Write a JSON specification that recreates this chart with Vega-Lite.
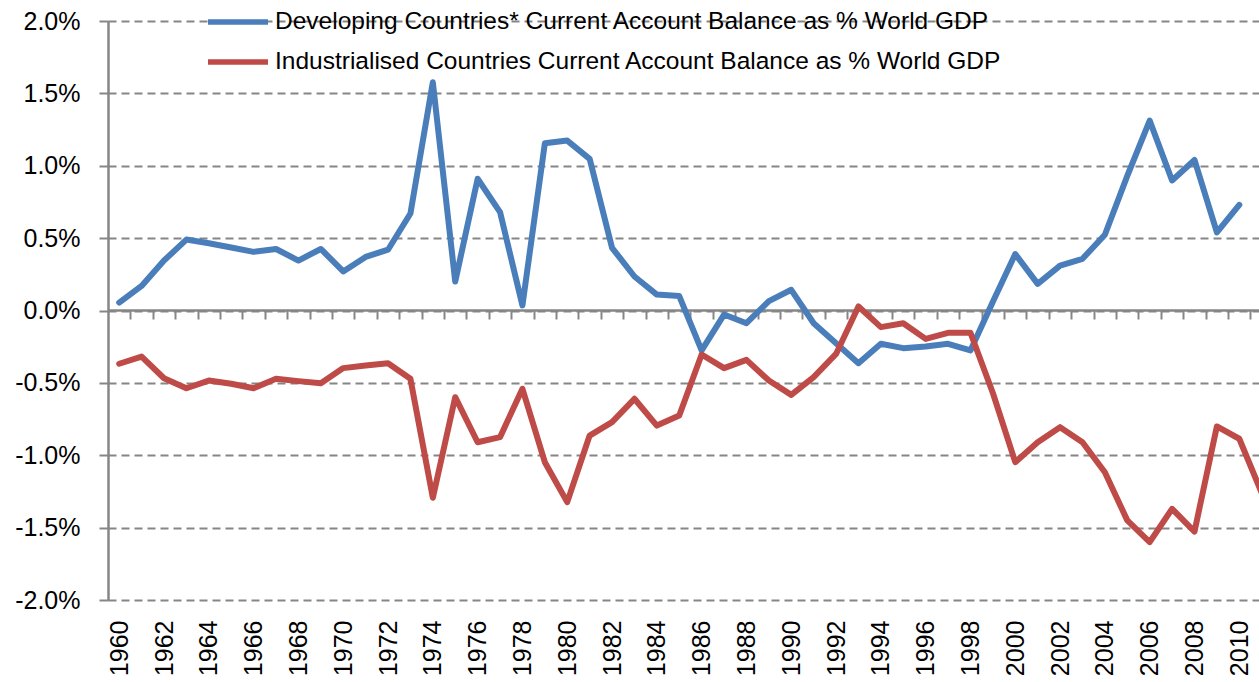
{
  "$schema": "https://vega.github.io/schema/vega-lite/v6.json",
  "width": 1151,
  "height": 579,
  "autosize": {"type": "none"},
  "padding": {"left": 108, "top": 21, "right": 0, "bottom": 82},
  "background": "white",
  "config": {
    "view": {"stroke": null},
    "font": "Liberation Sans"
  },
  "data": {
    "values": [
      {"year": 1960, "series": "Developing Countries* Current Account Balance as % World GDP", "value": 0.055},
      {"year": 1961, "series": "Developing Countries* Current Account Balance as % World GDP", "value": 0.17},
      {"year": 1962, "series": "Developing Countries* Current Account Balance as % World GDP", "value": 0.345},
      {"year": 1963, "series": "Developing Countries* Current Account Balance as % World GDP", "value": 0.49},
      {"year": 1964, "series": "Developing Countries* Current Account Balance as % World GDP", "value": 0.465},
      {"year": 1965, "series": "Developing Countries* Current Account Balance as % World GDP", "value": 0.435},
      {"year": 1966, "series": "Developing Countries* Current Account Balance as % World GDP", "value": 0.405},
      {"year": 1967, "series": "Developing Countries* Current Account Balance as % World GDP", "value": 0.425},
      {"year": 1968, "series": "Developing Countries* Current Account Balance as % World GDP", "value": 0.345},
      {"year": 1969, "series": "Developing Countries* Current Account Balance as % World GDP", "value": 0.425},
      {"year": 1970, "series": "Developing Countries* Current Account Balance as % World GDP", "value": 0.27},
      {"year": 1971, "series": "Developing Countries* Current Account Balance as % World GDP", "value": 0.37},
      {"year": 1972, "series": "Developing Countries* Current Account Balance as % World GDP", "value": 0.42},
      {"year": 1973, "series": "Developing Countries* Current Account Balance as % World GDP", "value": 0.67},
      {"year": 1974, "series": "Developing Countries* Current Account Balance as % World GDP", "value": 1.577},
      {"year": 1975, "series": "Developing Countries* Current Account Balance as % World GDP", "value": 0.2},
      {"year": 1976, "series": "Developing Countries* Current Account Balance as % World GDP", "value": 0.91},
      {"year": 1977, "series": "Developing Countries* Current Account Balance as % World GDP", "value": 0.68},
      {"year": 1978, "series": "Developing Countries* Current Account Balance as % World GDP", "value": 0.035},
      {"year": 1979, "series": "Developing Countries* Current Account Balance as % World GDP", "value": 1.155},
      {"year": 1980, "series": "Developing Countries* Current Account Balance as % World GDP", "value": 1.174},
      {"year": 1981, "series": "Developing Countries* Current Account Balance as % World GDP", "value": 1.048},
      {"year": 1982, "series": "Developing Countries* Current Account Balance as % World GDP", "value": 0.433},
      {"year": 1983, "series": "Developing Countries* Current Account Balance as % World GDP", "value": 0.235},
      {"year": 1984, "series": "Developing Countries* Current Account Balance as % World GDP", "value": 0.11},
      {"year": 1985, "series": "Developing Countries* Current Account Balance as % World GDP", "value": 0.1},
      {"year": 1986, "series": "Developing Countries* Current Account Balance as % World GDP", "value": -0.276},
      {"year": 1987, "series": "Developing Countries* Current Account Balance as % World GDP", "value": -0.028},
      {"year": 1988, "series": "Developing Countries* Current Account Balance as % World GDP", "value": -0.088},
      {"year": 1989, "series": "Developing Countries* Current Account Balance as % World GDP", "value": 0.065},
      {"year": 1990, "series": "Developing Countries* Current Account Balance as % World GDP", "value": 0.143},
      {"year": 1991, "series": "Developing Countries* Current Account Balance as % World GDP", "value": -0.088},
      {"year": 1992, "series": "Developing Countries* Current Account Balance as % World GDP", "value": -0.226},
      {"year": 1993, "series": "Developing Countries* Current Account Balance as % World GDP", "value": -0.364},
      {"year": 1994, "series": "Developing Countries* Current Account Balance as % World GDP", "value": -0.23},
      {"year": 1995, "series": "Developing Countries* Current Account Balance as % World GDP", "value": -0.26},
      {"year": 1996, "series": "Developing Countries* Current Account Balance as % World GDP", "value": -0.249},
      {"year": 1997, "series": "Developing Countries* Current Account Balance as % World GDP", "value": -0.23},
      {"year": 1998, "series": "Developing Countries* Current Account Balance as % World GDP", "value": -0.276},
      {"year": 1999, "series": "Developing Countries* Current Account Balance as % World GDP", "value": 0.06},
      {"year": 2000, "series": "Developing Countries* Current Account Balance as % World GDP", "value": 0.39},
      {"year": 2001, "series": "Developing Countries* Current Account Balance as % World GDP", "value": 0.184},
      {"year": 2002, "series": "Developing Countries* Current Account Balance as % World GDP", "value": 0.31},
      {"year": 2003, "series": "Developing Countries* Current Account Balance as % World GDP", "value": 0.357},
      {"year": 2004, "series": "Developing Countries* Current Account Balance as % World GDP", "value": 0.523},
      {"year": 2005, "series": "Developing Countries* Current Account Balance as % World GDP", "value": 0.93},
      {"year": 2006, "series": "Developing Countries* Current Account Balance as % World GDP", "value": 1.312},
      {"year": 2007, "series": "Developing Countries* Current Account Balance as % World GDP", "value": 0.898},
      {"year": 2008, "series": "Developing Countries* Current Account Balance as % World GDP", "value": 1.04},
      {"year": 2009, "series": "Developing Countries* Current Account Balance as % World GDP", "value": 0.54},
      {"year": 2010, "series": "Developing Countries* Current Account Balance as % World GDP", "value": 0.73},
      {"year": 1960, "series": "Industrialised Countries Current Account Balance as % World GDP", "value": -0.368},
      {"year": 1961, "series": "Industrialised Countries Current Account Balance as % World GDP", "value": -0.318},
      {"year": 1962, "series": "Industrialised Countries Current Account Balance as % World GDP", "value": -0.468},
      {"year": 1963, "series": "Industrialised Countries Current Account Balance as % World GDP", "value": -0.537},
      {"year": 1964, "series": "Industrialised Countries Current Account Balance as % World GDP", "value": -0.484},
      {"year": 1965, "series": "Industrialised Countries Current Account Balance as % World GDP", "value": -0.506},
      {"year": 1966, "series": "Industrialised Countries Current Account Balance as % World GDP", "value": -0.537},
      {"year": 1967, "series": "Industrialised Countries Current Account Balance as % World GDP", "value": -0.472},
      {"year": 1968, "series": "Industrialised Countries Current Account Balance as % World GDP", "value": -0.488},
      {"year": 1969, "series": "Industrialised Countries Current Account Balance as % World GDP", "value": -0.502},
      {"year": 1970, "series": "Industrialised Countries Current Account Balance as % World GDP", "value": -0.398},
      {"year": 1971, "series": "Industrialised Countries Current Account Balance as % World GDP", "value": -0.38},
      {"year": 1972, "series": "Industrialised Countries Current Account Balance as % World GDP", "value": -0.364},
      {"year": 1973, "series": "Industrialised Countries Current Account Balance as % World GDP", "value": -0.472},
      {"year": 1974, "series": "Industrialised Countries Current Account Balance as % World GDP", "value": -1.294},
      {"year": 1975, "series": "Industrialised Countries Current Account Balance as % World GDP", "value": -0.599},
      {"year": 1976, "series": "Industrialised Countries Current Account Balance as % World GDP", "value": -0.91},
      {"year": 1977, "series": "Industrialised Countries Current Account Balance as % World GDP", "value": -0.875},
      {"year": 1978, "series": "Industrialised Countries Current Account Balance as % World GDP", "value": -0.541},
      {"year": 1979, "series": "Industrialised Countries Current Account Balance as % World GDP", "value": -1.048},
      {"year": 1980, "series": "Industrialised Countries Current Account Balance as % World GDP", "value": -1.324},
      {"year": 1981, "series": "Industrialised Countries Current Account Balance as % World GDP", "value": -0.864},
      {"year": 1982, "series": "Industrialised Countries Current Account Balance as % World GDP", "value": -0.771},
      {"year": 1983, "series": "Industrialised Countries Current Account Balance as % World GDP", "value": -0.61},
      {"year": 1984, "series": "Industrialised Countries Current Account Balance as % World GDP", "value": -0.795},
      {"year": 1985, "series": "Industrialised Countries Current Account Balance as % World GDP", "value": -0.725},
      {"year": 1986, "series": "Industrialised Countries Current Account Balance as % World GDP", "value": -0.304},
      {"year": 1987, "series": "Industrialised Countries Current Account Balance as % World GDP", "value": -0.398},
      {"year": 1988, "series": "Industrialised Countries Current Account Balance as % World GDP", "value": -0.341},
      {"year": 1989, "series": "Industrialised Countries Current Account Balance as % World GDP", "value": -0.484},
      {"year": 1990, "series": "Industrialised Countries Current Account Balance as % World GDP", "value": -0.583},
      {"year": 1991, "series": "Industrialised Countries Current Account Balance as % World GDP", "value": -0.46},
      {"year": 1992, "series": "Industrialised Countries Current Account Balance as % World GDP", "value": -0.3},
      {"year": 1993, "series": "Industrialised Countries Current Account Balance as % World GDP", "value": 0.028},
      {"year": 1994, "series": "Industrialised Countries Current Account Balance as % World GDP", "value": -0.115},
      {"year": 1995, "series": "Industrialised Countries Current Account Balance as % World GDP", "value": -0.088},
      {"year": 1996, "series": "Industrialised Countries Current Account Balance as % World GDP", "value": -0.196},
      {"year": 1997, "series": "Industrialised Countries Current Account Balance as % World GDP", "value": -0.154},
      {"year": 1998, "series": "Industrialised Countries Current Account Balance as % World GDP", "value": -0.154},
      {"year": 1999, "series": "Industrialised Countries Current Account Balance as % World GDP", "value": -0.57},
      {"year": 2000, "series": "Industrialised Countries Current Account Balance as % World GDP", "value": -1.048},
      {"year": 2001, "series": "Industrialised Countries Current Account Balance as % World GDP", "value": -0.91},
      {"year": 2002, "series": "Industrialised Countries Current Account Balance as % World GDP", "value": -0.806},
      {"year": 2003, "series": "Industrialised Countries Current Account Balance as % World GDP", "value": -0.91},
      {"year": 2004, "series": "Industrialised Countries Current Account Balance as % World GDP", "value": -1.117},
      {"year": 2005, "series": "Industrialised Countries Current Account Balance as % World GDP", "value": -1.45},
      {"year": 2006, "series": "Industrialised Countries Current Account Balance as % World GDP", "value": -1.6},
      {"year": 2007, "series": "Industrialised Countries Current Account Balance as % World GDP", "value": -1.37},
      {"year": 2008, "series": "Industrialised Countries Current Account Balance as % World GDP", "value": -1.527},
      {"year": 2009, "series": "Industrialised Countries Current Account Balance as % World GDP", "value": -0.801},
      {"year": 2010, "series": "Industrialised Countries Current Account Balance as % World GDP", "value": -0.886},
      {"year": 2011, "series": "Industrialised Countries Current Account Balance as % World GDP", "value": -1.26}
    ]
  },
  "encoding": {
    "y": {
      "field": "value",
      "type": "quantitative",
      "scale": {"domain": [-2, 2], "nice": false, "zero": false},
      "axis": {
        "title": null,
        "values": [-2, -1.5, -1, -0.5, 0, 0.5, 1, 1.5, 2],
        "labelExpr": "(datum.value < 0 ? '-' : '') + format(abs(datum.value), '.1f') + '%'",
        "grid": true,
        "gridDash": [8, 5],
        "gridColor": "#868686",
        "gridWidth": 2,
        "domainColor": "#868686",
        "domainWidth": 2.5,
        "tickColor": "#868686",
        "tickWidth": 2,
        "tickSize": 9,
        "labelFontSize": 25,
        "labelPadding": 19,
        "labelColor": "black",
        "labelFont": "Liberation Sans"
      }
    }
  },
  "layer": [
    {
      "mark": {"type": "line", "opacity": 0, "clip": true},
      "encoding": {
        "x": {
          "field": "year",
          "type": "quantitative",
          "scale": {"domain": [1959.5, 2010.88], "nice": false, "zero": false},
          "axis": {
            "orient": "bottom",
            "offset": -290,
            "title": null,
            "values": [1960.5, 1961.5, 1962.5, 1963.5, 1964.5, 1965.5, 1966.5, 1967.5, 1968.5, 1969.5, 1970.5, 1971.5, 1972.5, 1973.5, 1974.5, 1975.5, 1976.5, 1977.5, 1978.5, 1979.5, 1980.5, 1981.5, 1982.5, 1983.5, 1984.5, 1985.5, 1986.5, 1987.5, 1988.5, 1989.5, 1990.5, 1991.5, 1992.5, 1993.5, 1994.5, 1995.5, 1996.5, 1997.5, 1998.5, 1999.5, 2000.5, 2001.5, 2002.5, 2003.5, 2004.5, 2005.5, 2006.5, 2007.5, 2008.5, 2009.5, 2010.5],
            "labels": false,
            "ticks": true,
            "tickSize": 9,
            "tickWidth": 2,
            "tickColor": "#868686",
            "domain": true,
            "domainColor": "#868686",
            "domainWidth": 2.5,
            "grid": false
          }
        }
      }
    },
    {
      "mark": {"type": "line", "strokeWidth": 6, "strokeCap": "round", "strokeJoin": "round", "clip": true},
      "encoding": {
        "x": {
          "field": "year",
          "type": "quantitative",
          "scale": {"domain": [1959.5, 2010.88], "nice": false, "zero": false},
          "axis": {
            "orient": "bottom",
            "title": null,
            "values": [1960, 1962, 1964, 1966, 1968, 1970, 1972, 1974, 1976, 1978, 1980, 1982, 1984, 1986, 1988, 1990, 1992, 1994, 1996, 1998, 2000, 2002, 2004, 2006, 2008, 2010],
            "format": "d",
            "labelAngle": -90,
            "labelFontSize": 25,
            "labelColor": "black",
            "labelFont": "Liberation Sans",
            "labelPadding": 20,
            "labelOverlap": false,
            "ticks": false,
            "domain": false,
            "grid": false
          }
        },
        "color": {
          "field": "series",
          "type": "nominal",
          "scale": {
            "domain": ["Developing Countries* Current Account Balance as % World GDP", "Industrialised Countries Current Account Balance as % World GDP"],
            "range": ["#4A7EBB", "#BE4B48"]
          },
          "legend": {
            "orient": "none",
            "legendX": 112,
            "legendY": -17,
            "title": null,
            "symbolType": "M-2,0L2,0",
            "symbolSize": 900,
            "symbolStrokeWidth": 5.5,
            "labelFontSize": 24.5,
            "labelFont": "Liberation Sans",
            "labelColor": "black",
            "labelLimit": 1200,
            "labelOffset": 19,
            "rowPadding": 10
          }
        }
      }
    }
  ],
  "resolve": {"axis": {"x": "independent"}}
}
